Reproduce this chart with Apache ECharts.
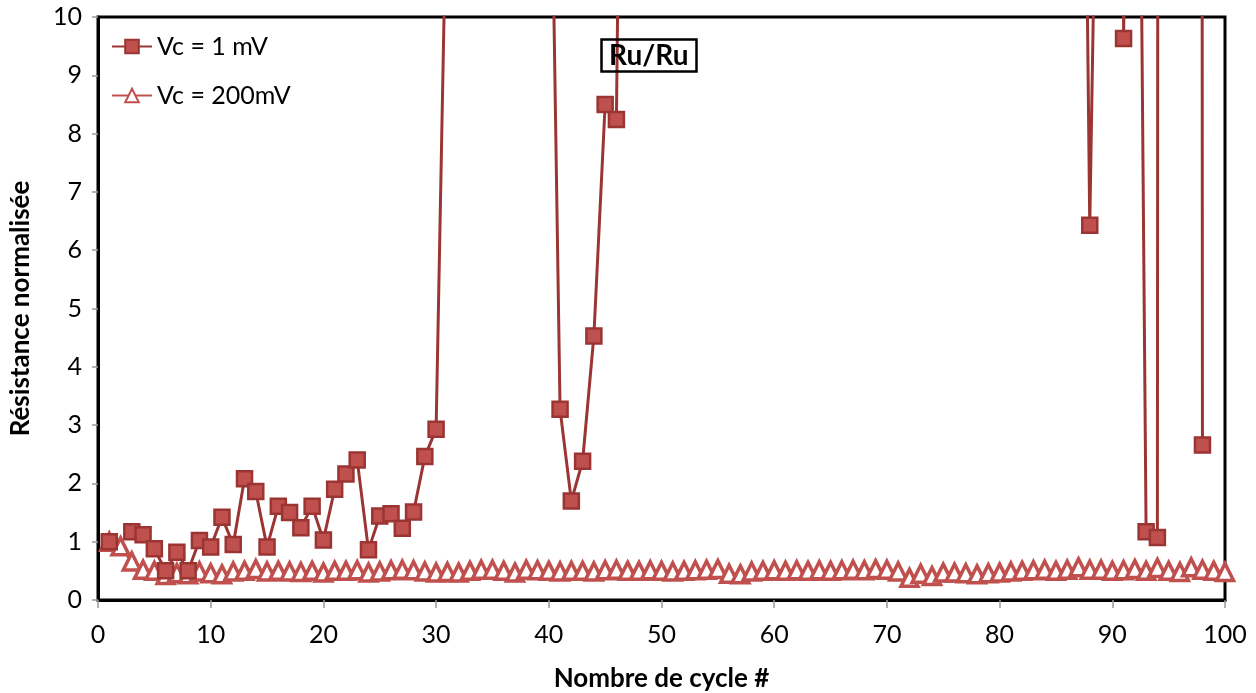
<!DOCTYPE html>
<html>
<head>
<meta charset="utf-8">
<script src="https://cdn.jsdelivr.net/npm/echarts@6/dist/echarts.min.js"></script>
<style>
  html, body { margin: 0; padding: 0; background: #fff; }
  #main { width: 1256px; height: 693px; }
</style>
</head>
<body>
<div id="main"></div>
<script>
// cycle numbers 1..100
var cycles = Array.from({ length: 100 }, function (_, i) { return i + 1; });

// Vc = 1 mV (values above 10 run off the top of the plot)
var vc1mV = [
  1.00, null, 1.17, 1.12, 0.88, 0.50, 0.82, 0.50, 1.02, 0.91,
  1.42, 0.95, 2.08, 1.86, 0.91, 1.61, 1.50, 1.24, 1.61, 1.03,
  1.90, 2.16, 2.40, 0.86, 1.44, 1.48, 1.23, 1.51, 2.46, 2.93,
  13.0, 18.0, 22.0, 15.0, 20.0, 25.0, 17.0, 21.0, 19.0, 15.7,
  3.27, 1.70, 2.38, 4.53, 8.50, 8.24, 25.8, 30.0, 28.0, 35.0,
  30.0, 27.0, 33.0, 29.0, 31.0, 26.0, 30.0, 34.0, 28.0, 32.0,
  30.0, 29.0, 27.0, 31.0, 33.0, 28.0, 30.0, 26.0, 32.0, 29.0,
  31.0, 30.0, 28.0, 33.0, 27.0, 30.0, 29.0, 32.0, 28.0, 31.0,
  30.0, 27.0, 29.0, 33.0, 30.0, 28.0, 24.0, 6.43, 18.0, 300,
  9.63, 24.0, 1.17, 1.07, 300, 200, 300, 2.66, null, null
];

// Vc = 200 mV
var vc200mV = [
  1.00, 0.92, 0.66, 0.52, 0.50, 0.43, 0.46, 0.44, 0.49, 0.46,
  0.44, 0.49, 0.50, 0.53, 0.49, 0.50, 0.49, 0.48, 0.50, 0.47,
  0.50, 0.50, 0.51, 0.47, 0.49, 0.51, 0.52, 0.51, 0.49, 0.47,
  0.48, 0.47, 0.50, 0.52, 0.52, 0.50, 0.47, 0.52, 0.51, 0.50,
  0.49, 0.50, 0.50, 0.49, 0.51, 0.52, 0.50, 0.50, 0.51, 0.50,
  0.49, 0.50, 0.51, 0.52, 0.53, 0.45, 0.44, 0.49, 0.50, 0.51,
  0.50, 0.51, 0.50, 0.51, 0.50, 0.51, 0.52, 0.51, 0.53, 0.52,
  0.49, 0.38, 0.45, 0.41, 0.47, 0.47, 0.46, 0.44, 0.46, 0.47,
  0.49, 0.50, 0.51, 0.52, 0.50, 0.52, 0.56, 0.52, 0.52, 0.50,
  0.51, 0.53, 0.50, 0.55, 0.50, 0.48, 0.56, 0.52, 0.50, 0.48
];

var xTicks = ['0', '10', '20', '30', '40', '50', '60', '70', '80', '90', '100'];
var yTicks = ['0', '1', '2', '3', '4', '5', '6', '7', '8', '9', '10'];

function pairs(ys) {
  return cycles.map(function (c, i) { return [c, ys[i]]; });
}

var font = 'Lato, "Open Sans", sans-serif';
var chart = echarts.init(document.getElementById('main'));

var option = {
  animation: false,
  backgroundColor: '#fff',
  textStyle: { fontFamily: font },
  title: {
    text: 'Ru/Ru',
    left: 601,
    top: 39,
    padding: [3, 8, 2, 8],
    borderColor: '#000',
    borderWidth: 2.5,
    textStyle: { fontFamily: font, fontSize: 28, fontWeight: 'bold', color: '#000' }
  },
  legend: {
    orient: 'vertical',
    left: 106,
    top: 29,
    itemGap: 24,
    itemWidth: 40,
    itemHeight: 17,
    textStyle: { fontFamily: font, fontSize: 25, color: '#000' },
    data: ['Vc = 1 mV', 'Vc = 200mV']
  },
  grid: {
    left: 98,
    right: 31,
    top: 17,
    bottom: 93,
    outerBoundsMode: 'none',
    show: true,
    borderColor: '#000',
    borderWidth: 3
  },
  xAxis: {
    type: 'value',
    min: 0,
    max: 100,
    interval: 10,
    name: 'Nombre de cycle #',
    nameLocation: 'middle',
    nameGap: 66,
    nameTextStyle: { fontFamily: font, fontSize: 26, fontWeight: 'bold', color: '#000' },
    axisLine: { lineStyle: { color: '#000', width: 3 } },
    axisTick: { show: true, length: 8, lineStyle: { color: '#999', width: 1.5 } },
    axisLabel: {
      fontSize: 25, color: '#000', margin: 22,
      formatter: function (v) { return xTicks[v / 10]; }
    },
    splitLine: { show: false }
  },
  yAxis: {
    type: 'value',
    min: 0,
    max: 10,
    interval: 1,
    name: 'Résistance normalisée',
    nameLocation: 'middle',
    nameGap: 64,
    nameTextStyle: { fontFamily: font, fontSize: 26, fontWeight: 'bold', color: '#000' },
    axisLine: { show: true, lineStyle: { color: '#000', width: 3 } },
    axisTick: { show: true, length: 6, lineStyle: { color: '#999', width: 1.5 } },
    axisLabel: {
      fontSize: 25, color: '#000', margin: 16,
      formatter: function (v) { return yTicks[v]; }
    },
    splitLine: { show: false }
  },
  series: [
    {
      name: 'Vc = 200mV',
      type: 'line',
      data: pairs(vc200mV),
      clip: true,
      symbol: 'triangle',
      symbolSize: 17,
      showAllSymbol: true,
      lineStyle: { color: '#c0504d', width: 3 },
      itemStyle: { color: '#fff', borderColor: '#c0504d', borderWidth: 3.5 },
      z: 2
    },
    {
      name: 'Vc = 1 mV',
      type: 'line',
      data: pairs(vc1mV),
      clip: true,
      connectNulls: false,
      symbol: 'rect',
      symbolSize: 15,
      showAllSymbol: true,
      lineStyle: { color: '#9b3533', width: 3 },
      itemStyle: { color: '#c0504d', borderColor: '#9b3533', borderWidth: 2.5 },
      z: 3
    }
  ]
};

chart.setOption(option);
</script>
</body>
</html>
